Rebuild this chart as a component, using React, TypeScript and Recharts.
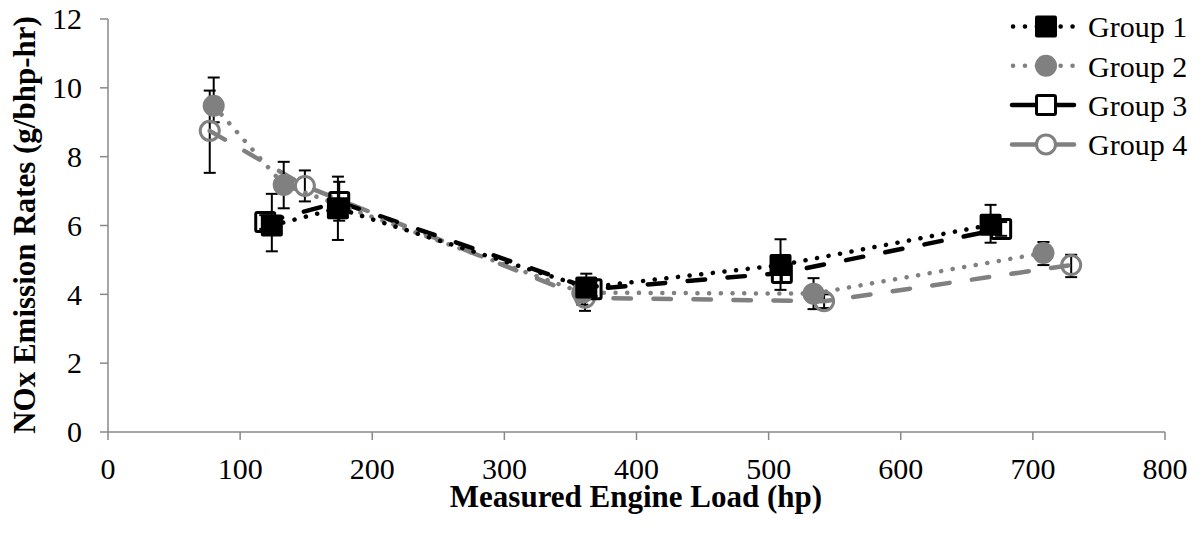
import { LineChart, Line, XAxis, YAxis, ErrorBar, Legend } from "recharts";

// measured engine load (hp) and NOx rates (g/bhp-hr), with error bar ends
const seriesNames = ["Group 1", "Group 2", "Group 3", "Group 4"];

const group1Load = [124, 174, 362, 509, 668];
const group1Nox = [6.0, 6.5, 4.2, 4.85, 6.02];
const group1Low = [5.25, 5.58, 3.9, 4.13, 5.5];
const group1High = [6.92, 7.42, 4.6, 5.6, 6.6];

const group2Load = [80, 133, 359, 534, 708];
const group2Nox = [9.48, 7.18, 4.05, 4.02, 5.2];
const group2Low = [9.0, 6.5, 3.7, 3.57, 4.85];
const group2High = [10.3, 7.85, 4.4, 4.47, 5.52];

const group3Load = [119, 175, 366, 510, 676];
const group3Nox = [6.1, 6.68, 4.15, 4.62, 5.9];
const group3Low = [5.9, 6.14, 3.95, 4.36, 5.7];
const group3High = [6.3, 7.27, 4.4, 4.9, 6.1];

const group4Load = [77, 149, 361, 542, 729];
const group4Nox = [8.75, 7.15, 3.9, 3.8, 4.85];
const group4Low = [7.53, 6.7, 3.52, 3.6, 4.5];
const group4High = [9.92, 7.6, 4.2, 4.0, 5.15];

const xTicks = [0, 100, 200, 300, 400, 500, 600, 700, 800];
const yTicks = [0, 2, 4, 6, 8, 10, 12];

const FONT = "'Liberation Serif', 'Times New Roman', serif";
const GRAY = "#808080";
const AXIS = "#898989";
const DOTTED = "0.1 11.6";
const DASHED = "17.5 22.5";

type Row = { x: number; y: number; err: [number, number] };

function buildRows(xs: number[], ys: number[], lo: number[], hi: number[]): Row[] {
  return xs.map((x, i) => ({ x, y: ys[i], err: [ys[i] - lo[i], hi[i] - ys[i]] }));
}

type MarkerKind = "filledSquare" | "filledCircle" | "openSquare" | "openCircle";

function marker(kind: MarkerKind, cx: number, cy: number, color: string, key?: any) {
  if (kind === "filledSquare")
    return <rect key={key} x={cx - 11} y={cy - 11} width={22} height={22} rx={2} fill={color} />;
  if (kind === "filledCircle") return <circle key={key} cx={cx} cy={cy} r={11} fill={color} />;
  if (kind === "openSquare")
    return (
      <rect key={key} x={cx - 9.5} y={cy - 9.5} width={19} height={19} rx={1.5}
        fill="none" stroke={color} strokeWidth={3} />
    );
  return <circle key={key} cx={cx} cy={cy} r={9.5} fill="none" stroke={color} strokeWidth={3} />;
}

const series = [
  { name: seriesNames[0], rows: buildRows(group1Load, group1Nox, group1Low, group1High),
    color: "#000", dash: DOTTED, kind: "filledSquare" as MarkerKind },
  { name: seriesNames[1], rows: buildRows(group2Load, group2Nox, group2Low, group2High),
    color: GRAY, dash: DOTTED, kind: "filledCircle" as MarkerKind },
  { name: seriesNames[2], rows: buildRows(group3Load, group3Nox, group3Low, group3High),
    color: "#000", dash: DASHED, kind: "openSquare" as MarkerKind },
  { name: seriesNames[3], rows: buildRows(group4Load, group4Nox, group4Low, group4High),
    color: GRAY, dash: DASHED, kind: "openCircle" as MarkerKind },
];

function LegendBox() {
  return (
    <svg width={202} height={170}>
      {series.map((s, i) => {
        const y = 26.5 + i * 39.3;
        return (
          <g key={s.name}>
            {s.dash === DOTTED ? (
              <line x1={13} y1={y} x2={73} y2={y} stroke={s.color} strokeWidth={4.5}
                strokeDasharray="0.1 11.8" strokeLinecap="round" />
            ) : (
              <line x1={12} y1={y} x2={74} y2={y} stroke={s.color} strokeWidth={4.5}
                strokeLinecap="round" />
            )}
            {s.kind.startsWith("open") && <rect x={36} y={y - 10} width={20} height={20} fill="#fff" />}
            {marker(s.kind, 46, y, s.color)}
            <text x={88} y={y} dy="0.36em" fontSize={30} fontFamily={FONT} fill="#000">
              {s.name}
            </text>
          </g>
        );
      })}
    </svg>
  );
}

function XTick(props: any) {
  const { x, y, payload } = props;
  return (
    <text x={x} y={y} dy="0.71em" textAnchor="middle" fontSize={30} fontFamily={FONT} fill="#000">
      {payload.value}
    </text>
  );
}

function YTick(props: any) {
  const { x, y, payload } = props;
  return (
    <text x={x} y={y} dy="0.34em" textAnchor="end" fontSize={30} fontFamily={FONT} fill="#000">
      {payload.value}
    </text>
  );
}

export default function App() {
  const drawOrder = [3, 2, 1, 0];
  return (
    <div style={{ position: "absolute", left: 0, top: 0, width: 1202, height: 533, background: "#fff", fontFamily: FONT }}>
      <LineChart width={1202} height={533} margin={{ top: 19, right: 37, bottom: 0, left: 0 }}>
        <XAxis
          type="number"
          dataKey="x"
          domain={[0, 800]}
          ticks={xTicks}
          allowDataOverflow
          height={101}
          stroke={AXIS}
          strokeWidth={1.5}
          tickSize={8}
          tickMargin={18}
          tick={<XTick />}
          label={() => (
            <text x={636} y={507} textAnchor="middle" fontSize={31} fontWeight="bold"
              fontFamily={FONT} fill="#000">
              Measured Engine Load (hp)
            </text>
          )}
        />
        <YAxis
          type="number"
          domain={[0, 12]}
          ticks={yTicks}
          allowDataOverflow
          width={108}
          stroke={AXIS}
          strokeWidth={1.5}
          tickSize={8}
          tickMargin={18}
          tick={<YTick />}
          label={() => (
            <text x={35} y={225} transform="rotate(-90 35 225)" textAnchor="middle" fontSize={31}
              fontWeight="bold" fontFamily={FONT} fill="#000">
              NOx Emission Rates (g/bhp-hr)
            </text>
          )}
        />
        <Legend
          layout="horizontal"
          verticalAlign="middle"
          align="center"
          content={() => <LegendBox />}
          wrapperStyle={{ position: "absolute", left: 1000, top: 0, width: 202, height: 170 }}
        />
        {drawOrder.map((idx) => {
          const s = series[idx];
          return (
            <Line
              key={s.name}
              name={s.name}
              data={s.rows}
              dataKey="y"
              type="linear"
              stroke={s.color}
              strokeWidth={4.5}
              strokeDasharray={s.dash}
              strokeLinecap="round"
              isAnimationActive={false}
              activeDot={false}
              dot={(p: any) => marker(s.kind, p.cx, p.cy, s.color, `${s.name}-${p.index}`)}
            >
              <ErrorBar dataKey="err" direction="y" width={6} stroke="#000" strokeWidth={2} />
            </Line>
          );
        })}
      </LineChart>
    </div>
  );
}
